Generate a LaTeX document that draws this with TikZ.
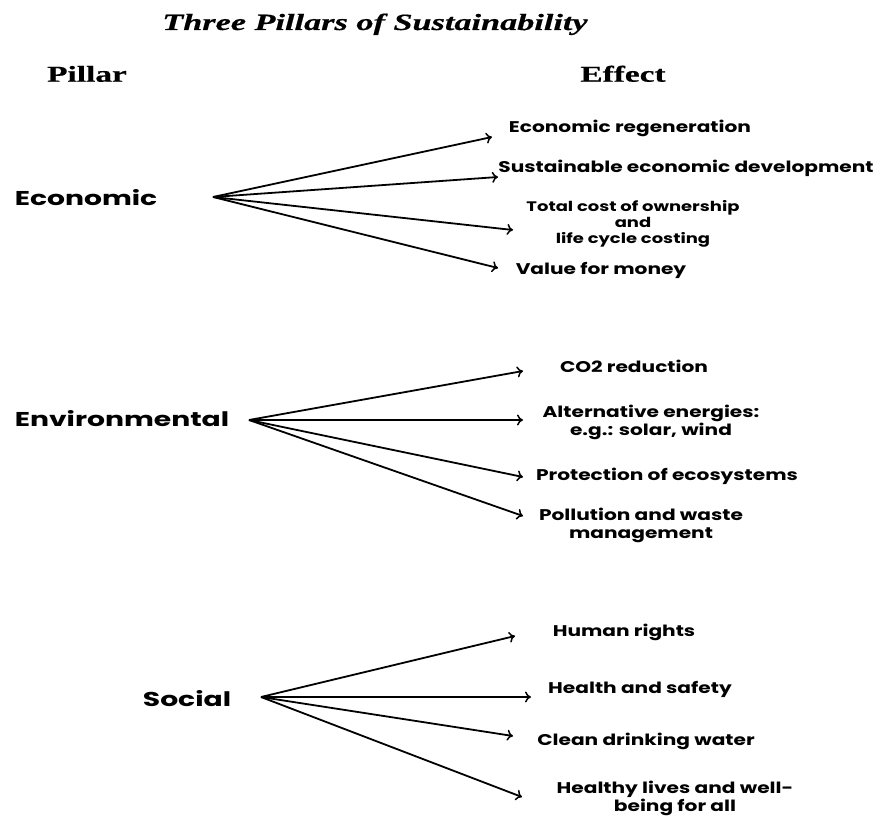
\documentclass[tikz,border=0pt]{standalone}
\usepackage{fontspec}
\newfontfamily\headfont{Liberation Serif Bold}[FakeStretch=1.47, FakeBold=0.6]
\newfontfamily\titlefont{Liberation Serif Bold Italic}[FakeStretch=1.47, FakeBold=0.6]
\newfontfamily\effectfont{Poppins}[FakeStretch=1.30]
\newfontfamily\pillarfont{Poppins}[FakeStretch=1.41]
\usetikzlibrary{arrows.meta}
\begin{document}
\begin{tikzpicture}[x=1pt,y=-1pt,
  titletext/.style={font=\titlefont\fontsize{23.3}{26}\selectfont, anchor=base, inner sep=0pt},
  headtext/.style={font=\headfont\fontsize{22.7}{26}\selectfont, anchor=base, inner sep=0pt},
  pillartext/.style={font=\pillarfont\fontsize{20}{24}\selectfont\bfseries, anchor=base, inner sep=0pt},
  efftext/.style={font=\effectfont\fontsize{15.5}{18}\selectfont\bfseries, align=center, inner sep=0pt},
  oneline/.style={efftext, anchor=base},
  smalltext/.style={font=\effectfont\fontsize{13.8}{16}\selectfont\bfseries, align=center, inner sep=0pt},
  conn/.style={line width=1.8pt, -{To[length=6pt,width=11pt,line width=1.5pt]}}
]
\useasboundingbox (0,0) rectangle (876,816);
\node[titletext] (title) at (375,30) {Three Pillars of Sustainability};
\node[headtext] (pillar) at (87,81.7) {Pillar};
\node[headtext] (effect) at (623,81.7) {Effect};

% Economic
\node[pillartext] (eco) at (86,205) {Economic};
\coordinate (eco-o) at (213,197);
\coordinate (e1) at (492,137);
\coordinate (e2) at (498,177);
\coordinate (e3) at (513,230);
\coordinate (e4) at (498,268);
\node[oneline] (eco1) at (630,132.7) {Economic regeneration};
\node[oneline] (eco2) at (686,172.7) {Sustainable economic development};
\node[smalltext] (eco3) at (633,223.7) {Total cost of ownership\\and\\life cycle costing};
\node[oneline] (eco4) at (601,274) {Value for money};
\foreach \t in {e1,e2,e3,e4} \draw[conn] (eco-o) -- (\t);

% Environmental
\node[pillartext] (env) at (122,426) {Environmental};
\coordinate (env-o) at (249,420);
\coordinate (n1) at (523,371);
\coordinate (n2) at (523,420);
\coordinate (n3) at (523,477);
\coordinate (n4) at (523,516);
\node[oneline] (env1) at (634,372.7) {CO2 reduction};
\node[efftext] (env2) at (651,422.8) {Alternative energies:\\e.g.: solar, wind};
\node[oneline] (env3) at (667,480.7) {Protection of ecosystems};
\node[efftext] (env4) at (641,525.2) {Pollution and waste\\management};
\foreach \t in {n1,n2,n3,n4} \draw[conn] (env-o) -- (\t);

% Social
\node[pillartext] (soc) at (187,706) {Social};
\coordinate (soc-o) at (261,697);
\coordinate (s1) at (515,636);
\coordinate (s2) at (531,697);
\coordinate (s3) at (513,736);
\coordinate (s4) at (522,797);
\node[oneline] (soc1) at (624,636) {Human rights};
\node[oneline] (soc2) at (640,693.3) {Health and safety};
\node[oneline] (soc3) at (646,745) {Clean drinking water};
\node[efftext] (soc4) at (675,798) {Healthy lives and well-\\being for all};
\foreach \t in {s1,s2,s3,s4} \draw[conn] (soc-o) -- (\t);
\end{tikzpicture}
\end{document}
